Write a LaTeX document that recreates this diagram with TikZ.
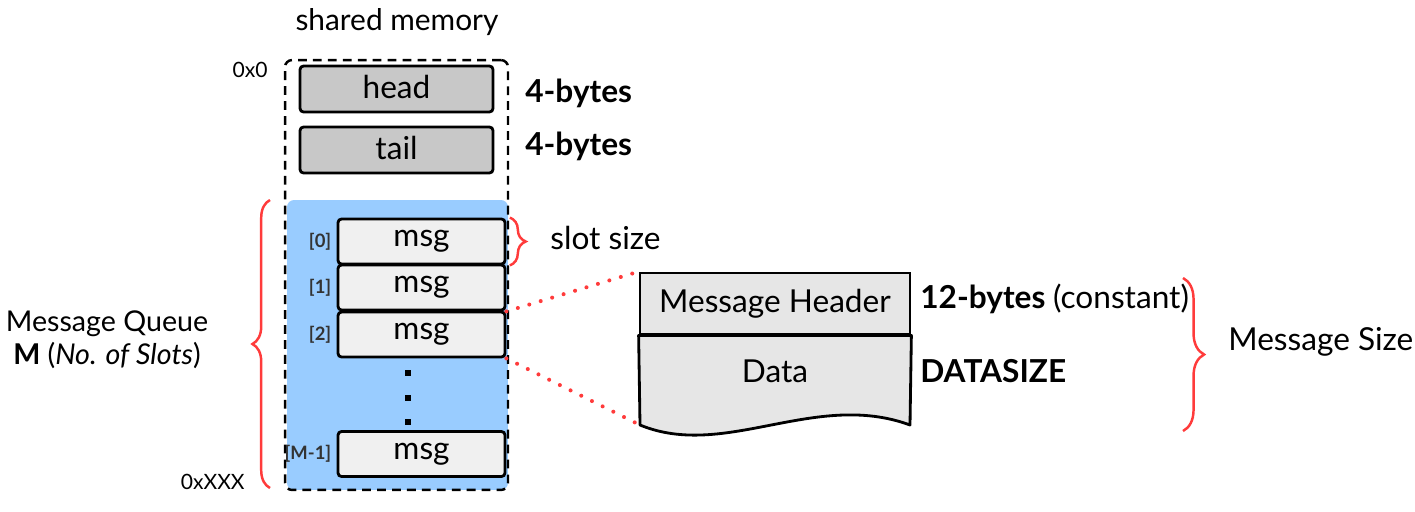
\documentclass[tikz,border=0pt]{standalone}
\usepackage{fontspec}
\setmainfont{Lato}
\usetikzlibrary{decorations.pathreplacing,positioning}

\definecolor{queueBlue}{HTML}{99CCFF}
\definecolor{regGray}{HTML}{C8C8C8}
\definecolor{slotGray}{HTML}{F0F0F0}
\definecolor{hdrGray}{HTML}{E6E6E6}
\definecolor{braceRed}{HTML}{FF3B3B}
\definecolor{idxGray}{HTML}{333333}

\begin{document}
\begin{tikzpicture}[x=0.02cm, y=-0.02cm,
    % Define the style for the head/tail registers
    regBox/.style={
        draw=black, 
        fill=regGray, 
        line width=1.6pt, 
        rounded corners=2pt, 
        inner sep=0pt, 
        minimum width=3.86cm, 
        minimum height=0.92cm,
        font=\fontsize{18}{20}\selectfont
    },
    % Define the style for the message slots
    slotBox/.style={
        draw=black, 
        fill=slotGray, 
        line width=1.6pt, 
        rounded corners=2pt, 
        inner sep=0pt, 
        minimum width=3.34cm, 
        minimum height=0.9cm,
        font=\fontsize{18}{20}\selectfont
    },
    % Define the style for the labels
    mainLbl/.style={font=\fontsize{18}{20}\selectfont, inner sep=0pt},
    sizeLbl/.style={font=\fontsize{18}{20}\selectfont\bfseries, inner sep=0pt, anchor=west},
    addrLbl/.style={font=\fontsize{12}{14}\selectfont, inner sep=0pt},
    idxLbl/.style={font=\fontsize{10.5}{12}\selectfont\bfseries, text=idxGray, inner sep=0pt},
    % Define the style for braces and zoom lines
    braceStyle/.style={draw=braceRed, line width=1.4pt, decorate},
    zoomLine/.style={draw=braceRed, line width=2.3pt, line cap=round, dash pattern=on 0pt off 6.8pt},
    dotSq/.style={fill=black, inner sep=0pt, minimum size=0.12cm}
]

    \useasboundingbox (0,0) rectangle (1415,511);

    % --- SHARED MEMORY ---
    \node[fill=queueBlue, rounded corners=4pt, minimum width=4.42cm, minimum height=5.8cm, inner sep=0pt] (queue) at (397.5,345) {};
    \node[draw=black, dash pattern=on 5pt off 3.5pt, line width=1.4pt, rounded corners=4pt, minimum width=4.46cm, minimum height=8.6cm, inner sep=0pt] (shm) at (396.5,275) {};
    \node[mainLbl, font=\fontsize{17}{20}\selectfont] (shmLbl) at (397,22) {shared memory};
    \node[addrLbl, anchor=east] (addr0) at (268,70) {0x0};
    \node[addrLbl, anchor=east] (addrN) at (245,482) {0xXXX};

    % Head and tail registers
    \node[regBox] (head) at (396.5,89) {\raisebox{2pt}{head}};
    \node[regBox] (tail) at (396.5,150) {\raisebox{2pt}{tail}};
    \node[sizeLbl] (headSz) at (525,93) {4-bytes};
    \node[sizeLbl] (tailSz) at (525,146) {4-bytes};

    % --- MESSAGE SLOTS ---
    \foreach \i/\y/\idx in {0/241.5/[0], 1/287.5/[1], 2/334.5/[2], 3/454/[M-1]} {
        \node[slotBox] (msg\i) at (421.5,\y) {msg};
        \node[idxLbl, left=0.1cm of msg\i] {\idx};
    }
    \foreach \y in {373,398,422} {
        \node[dotSq] at (408,\y) {};
    }

    % Slot size brace
    \draw[braceStyle, decoration={brace, amplitude=9pt}] ([xshift=2pt]msg0.north east) -- ([xshift=2pt]msg0.south east);
    \node[mainLbl, anchor=west] (slotLbl) at (550,238) {slot size};

    % Queue brace
    \draw[braceStyle, decoration={brace, amplitude=10pt}] (270,488) -- (270,200);
    \node[mainLbl, font=\fontsize{16.3}{19}\selectfont, align=center] (queueLbl) at (107,340) {Message Queue\\\textbf{M} (\textit{No. of Slots})};

    % --- MESSAGE LAYOUT ---
    \node[draw=black, fill=hdrGray, line width=1.6pt, minimum width=5.4cm, minimum height=1.22cm, inner sep=0pt, font=\fontsize{18}{20}\selectfont] (hdr) at (775,303.5) {Message Header};
    \coordinate (dataBL) at (640,425);
    \coordinate (dataBR) at (910,425);
    \draw[fill=hdrGray, line width=1.6pt, line join=round] (hdr.south west) -- (dataBL) .. controls (725,460) and (815,390) .. (dataBR) -- (hdr.south east) -- cycle;
    \node[font=\fontsize{18}{20}\selectfont, inner sep=0pt] (data) at (775,371) {Data};

    \node[sizeLbl] (hdrSz) at (920,299) {12-bytes \mdseries(constant)};
    \node[sizeLbl] (dataSz) at (920,371) {DATASIZE};

    % Message size brace
    \draw[braceStyle, decoration={brace, amplitude=12pt}] (1183,278) -- (1183,431);
    \node[mainLbl, anchor=west] (msgSzLbl) at (1228,342) {Message Size};

    % Zoom lines from slot to layout
    \draw[zoomLine] (msg1.south east) -- (hdr.north west);
    \draw[zoomLine] (msg2.south east) -- (dataBL);

\end{tikzpicture}
\end{document}
